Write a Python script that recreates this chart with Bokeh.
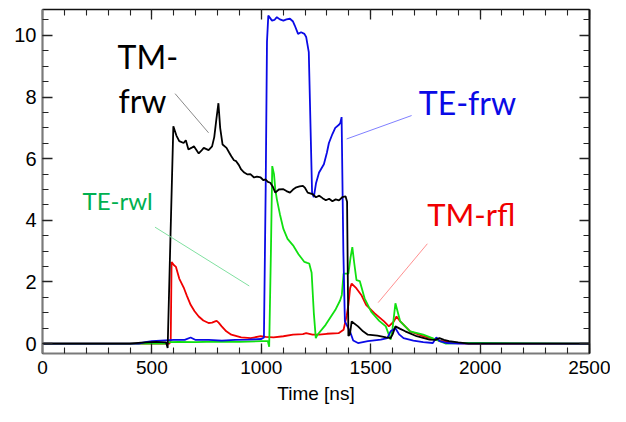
from bokeh.plotting import figure
from bokeh.models import LinearAxis, Range1d, Label, FixedTicker
from bokeh.embed import file_html
from bokeh.resources import INLINE

# ---- data (time in ns, signal) ----
tm_frw_t = [0, 400, 450, 520, 565, 572, 585, 598, 612, 625, 645, 655, 667, 680, 692, 714, 725, 737, 759, 775,
            785, 795, 804, 812, 823, 841, 853, 863, 875, 885, 897, 908, 922, 937, 950, 967, 980, 997, 1010, 1019,
            1030, 1041, 1052, 1064, 1080, 1101, 1115, 1131, 1145, 1160, 1175, 1190, 1200, 1212, 1234, 1250, 1265,
            1280, 1295, 1310, 1325, 1340, 1355, 1370, 1385, 1392, 1398, 1405, 1413, 1442, 1465, 1487, 1531, 1570,
            1591, 1600, 1613, 1635, 1658, 1710, 1769, 1795, 1814, 1835, 1858, 1900, 1947, 2500]
tm_frw_v = [0, 0, 0.03, 0.06, 0.04, -0.14, 3.5, 7.05, 6.75, 6.57, 6.51, 6.6, 6.3, 6.35, 6.4, 6.17, 6.25, 6.35, 6.28, 6.4,
            6.7, 7.3, 7.8, 7.0, 6.46, 6.35, 6.2, 6.08, 5.95, 5.92, 5.8, 5.65, 5.55, 5.49, 5.5, 5.39, 5.42, 5.39, 5.3, 5.33,
            5.25, 5.22, 5.1, 4.9, 5.0, 5.01, 4.95, 4.9, 5.0, 5.07, 5.1, 5.12, 5.05, 4.9, 4.85, 4.75, 4.8,
            4.72, 4.65, 4.7, 4.62, 4.68, 4.65, 4.75, 4.78, 4.6, 0.25, 0.3, 0.72, 0.56, 0.4, 0.29, 0.26, 0.2,
            0.18, 0.3, 0.56, 0.48, 0.4, 0.24, 0.13, 0.12, 0.18, 0.12, 0.08, 0.04, 0.0, 0]

te_frw_t = [0, 440, 470, 500, 540, 600, 650, 677, 700, 760, 820, 880, 940, 1000, 1012, 1020, 1026, 1032, 1049, 1060,
            1071, 1085, 1101, 1115, 1131, 1145, 1153, 1168, 1182, 1197, 1205, 1217, 1232, 1240, 1250, 1264, 1286,
            1300, 1309, 1325, 1338, 1355, 1361, 1367, 1375, 1382, 1405, 1420, 1442, 1487, 1546, 1576, 1591, 1613,
            1630, 1650, 1695, 1740, 1784, 1800, 1815, 1850, 1900, 2500]
te_frw_v = [0, 0, 0.05, 0.08, 0.1, 0.12, 0.12, 0.2, 0.12, 0.12, 0.1, 0.12, 0.13, 0.15, 0.2, 5.0, 9.8, 10.64, 10.48, 10.5,
            10.59, 10.52, 10.48, 10.52, 10.54, 10.45, 10.32, 10.05, 10.1, 10.05, 9.95, 9.46, 4.9, 4.75, 5.2, 5.55, 5.82,
            6.2, 6.51, 6.8, 7.0, 7.1, 7.16, 7.35, 3.0, 0.72, 0.4, 0.1, 0.02, 0.08, 0.13, 0.18, 0.4, 0.5,
            0.3, 0.18, 0.1, 0.05, 0.02, 0.2, 0.08, 0.02, 0, 0]

te_rwl_t = [0, 560, 580, 620, 700, 800, 900, 1000, 1030, 1036, 1044, 1050, 1058, 1064, 1071, 1085, 1101, 1120, 1145,
            1170, 1197, 1210, 1219, 1230, 1240, 1249, 1257, 1294, 1320, 1338, 1360, 1368, 1376, 1398, 1408, 1416,
            1425, 1435, 1450, 1472, 1502, 1539, 1569, 1591, 1600, 1613, 1635, 1680, 1740, 1799, 1844, 1900, 2000, 2500]
te_rwl_v = [0, 0, 0.05, 0.06, 0.05, 0.07, 0.06, 0.08, 0.08, -0.1, 3.0, 5.76, 5.5, 5.0, 4.69, 4.2, 3.72, 3.4, 3.19,
            2.9, 2.65, 2.62, 2.6, 2.3, 1.0, 0.18, 0.29, 0.61, 0.9, 1.09, 1.4, 1.58, 2.27, 2.27, 2.8, 3.13,
            2.6, 2.06, 2.03, 1.47, 1.04, 0.74, 0.56, 0.13, 0.5, 1.31, 0.72, 0.4, 0.29, 0.13, 0.0, 0.02, 0.02, 0]

tm_rfl_t = [0, 580, 586, 590, 600, 610, 625, 647, 660, 677, 695, 714, 735, 759, 775, 789, 796, 805, 819, 840, 863,
            908, 952, 997, 1020, 1056, 1101, 1145, 1190, 1205, 1234, 1264, 1300, 1353, 1376, 1390, 1398, 1406, 1413,
            1435, 1457, 1479, 1517, 1561, 1583, 1606, 1618, 1635, 1680, 1740, 1814, 1888, 1950, 2500]
tm_rfl_v = [0, 0, 0.1, 2.65, 2.55, 2.49, 2.11, 1.79, 1.55, 1.26, 1.05, 0.88, 0.75, 0.67, 0.68, 0.72, 0.74, 0.68, 0.56, 0.4, 0.29,
            0.2, 0.18, 0.24, 0.22, 0.2, 0.24, 0.29, 0.31, 0.34, 0.29, 0.29, 0.32, 0.34, 0.45, 0.9, 1.26, 1.8, 1.95,
            1.79, 1.58, 1.26, 0.99, 0.72, 0.56, 0.72, 0.88, 0.72, 0.4, 0.24, 0.1, 0.02, 0, 0]

x_major = [0, 500, 1000, 1500, 2000, 2500]
x_minor = list(range(0, 2501, 100))
y_major = [0, 2, 4, 6, 8, 10]
y_minor = [i * 0.5 for i in range(0, 22)]

# ---- figure ----
p = figure(width=610, height=406, output_backend="svg", toolbar_location=None,
           x_range=Range1d(0, 2500), y_range=Range1d(-0.32, 10.84),
           min_border_left=42, min_border_right=21, min_border_top=9, min_border_bottom=51)
p.outline_line_color = None
p.xgrid.visible = False
p.ygrid.visible = False
p.background_fill_color = "white"
p.border_fill_color = "white"

TICK_FONT = "Liberation Sans"

def style_axis(ax, ticker, line_color, line_width, show_labels, size="20px"):
    ax.ticker = ticker
    ax.axis_line_color = line_color
    ax.axis_line_width = line_width
    ax.major_tick_in = 10
    ax.major_tick_out = 0
    ax.minor_tick_in = 6
    ax.minor_tick_out = 0
    ax.major_tick_line_color = "#222222"
    ax.minor_tick_line_color = "#222222"
    ax.major_tick_line_width = 1.3
    ax.minor_tick_line_width = 1.1
    if show_labels:
        ax.major_label_text_font = TICK_FONT
        ax.major_label_text_font_size = size
        ax.major_label_text_color = "black"
    else:
        ax.major_label_text_font_size = "0px"
        ax.major_label_standoff = 0

xt = FixedTicker(ticks=x_major, minor_ticks=x_minor)
yt = FixedTicker(ticks=y_major, minor_ticks=y_minor)

style_axis(p.xaxis[0], xt, "#7a7a7a", 2.2, True, "19px")
style_axis(p.yaxis[0], yt, "#7a7a7a", 2.2, True, "20px")
p.xaxis[0].major_label_standoff = 7
p.yaxis[0].major_label_standoff = 6
p.xaxis[0].axis_label = "Time [ns]"
p.xaxis[0].axis_label_text_font = TICK_FONT
p.xaxis[0].axis_label_text_font_size = "19px"
p.xaxis[0].axis_label_text_font_style = "normal"
p.xaxis[0].axis_label_text_color = "black"
p.xaxis[0].axis_label_standoff = 6

top = LinearAxis()
style_axis(top, FixedTicker(ticks=x_major, minor_ticks=x_minor), "#111111", 1.5, False)
p.add_layout(top, "above")
right = LinearAxis()
style_axis(right, FixedTicker(ticks=y_major, minor_ticks=y_minor), "#111111", 2.0, False)
p.add_layout(right, "right")

# ---- curves ----
p.line(tm_rfl_t, tm_rfl_v, line_color="#f00000", line_width=1.8)
p.line(te_rwl_t, te_rwl_v, line_color="#10e010", line_width=1.8)
p.line(te_frw_t, te_frw_v, line_color="#0a0ae6", line_width=1.8)
p.line(tm_frw_t, tm_frw_v, line_color="black", line_width=1.8)

# ---- leader lines ----
lead_x0 = [606, 1687, 514, 1759]
lead_y0 = [8.11, 7.40, 3.78, 3.24]
lead_x1 = [759, 1390, 945, 1534]
lead_y1 = [6.84, 6.64, 1.87, 1.33]
lead_col = ["#8a8a8a", "#8080ff", "#80e0a0", "#ff9090"]
p.segment(lead_x0, lead_y0, lead_x1, lead_y1, line_color=lead_col, line_width=1)

# ---- annotation texts ----
ANN_FONT = "Lato"
for txt, x, y, size, col in [
    ("TM-", 343, 9.33, "32px", "black"),
    ("frw", 347, 7.89, "32px", "black"),
    ("TE-frw", 1720, 7.82, "32px", "#0a0ae6"),
    ("TE-rwl", 183, 4.63, "24px", "#00b050"),
    ("TM-rfl", 1758, 4.22, "31px", "#f00000"),
]:
    p.add_layout(Label(x=x, y=y, text=txt, text_font=ANN_FONT, text_font_size=size,
                       text_color=col, text_baseline="alphabetic", text_align="left"))

open("out.html", "w").write(file_html(p, INLINE))
